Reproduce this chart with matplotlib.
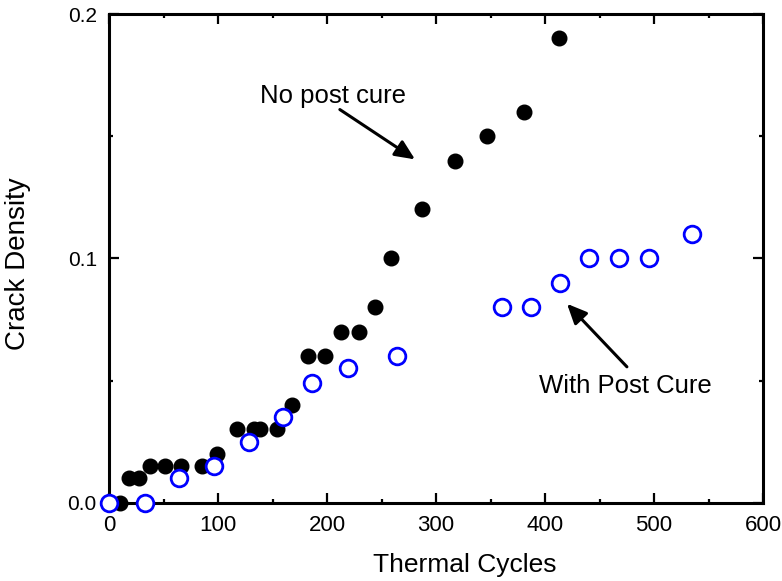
import matplotlib
matplotlib.use("Agg")
import matplotlib.pyplot as plt
from matplotlib.ticker import MultipleLocator, FormatStrFormatter

plt.rcParams['font.family'] = ['Liberation Sans', 'DejaVu Sans']

# No post cure (filled black)
cycles_no_cure = [10, 18, 27, 37, 51, 66, 85, 99, 117, 133, 138, 154, 168,
                  182, 198, 213, 229, 244, 259, 287, 317, 347, 381, 413]
density_no_cure = [0.0, 0.01, 0.01, 0.015, 0.015, 0.015, 0.015, 0.02, 0.03,
                   0.03, 0.03, 0.03, 0.04, 0.06, 0.06, 0.07, 0.07, 0.08,
                   0.10, 0.12, 0.14, 0.15, 0.16, 0.19]

# With post cure (open blue)
cycles_post_cure = [0, 33, 64, 96, 128, 159, 186, 219, 264, 360, 387, 414,
                    440, 468, 495, 535]
density_post_cure = [0.0, 0.0, 0.01, 0.015, 0.025, 0.035, 0.049, 0.055, 0.06,
                     0.08, 0.08, 0.09, 0.10, 0.10, 0.10, 0.11]

x_ticks = [0, 100, 200, 300, 400, 500, 600]
y_ticks = [0.0, 0.1, 0.2]

fig = plt.figure(figsize=(7.82, 5.81), dpi=100)
ax = fig.add_axes([0.1398, 0.1348, 0.8359, 0.8411])

ax.plot(cycles_no_cure, density_no_cure, linestyle='none', marker='o',
        markersize=10.5, markerfacecolor='black', markeredgecolor='black',
        clip_on=False, zorder=3)
ax.plot(cycles_post_cure, density_post_cure, linestyle='none', marker='o',
        markersize=12, markerfacecolor='white', markeredgecolor='#0000ff',
        markeredgewidth=2.0, clip_on=False, zorder=4)

ax.set_xlim(0, 600)
ax.set_ylim(0, 0.2)
ax.set_xticks(x_ticks)
ax.set_yticks(y_ticks)
ax.xaxis.set_minor_locator(MultipleLocator(50))
ax.yaxis.set_minor_locator(MultipleLocator(0.05))
ax.yaxis.set_major_formatter(FormatStrFormatter('%.1f'))

for s in ax.spines.values():
    s.set_linewidth(2.2)

ax.tick_params(which='both', direction='in', top=True, right=True, width=1.6)
ax.tick_params(which='major', length=7)
ax.tick_params(which='minor', length=3)
ax.tick_params(axis='x', which='major', labelsize=16, pad=9)
ax.tick_params(axis='y', which='major', labelsize=15, pad=9)

ax.set_xlabel('Thermal Cycles', fontsize=19)
ax.set_ylabel('Crack Density', fontsize=20)
ax.xaxis.set_label_coords(0.543, -0.103)
ax.yaxis.set_label_coords(-0.12, 0.49)

arrow_kw = dict(arrowstyle='-|>,head_length=0.8,head_width=0.36',
                mutation_scale=15, color='black', lw=2.2,
                shrinkA=0, shrinkB=0)

ax.text(204.9, 0.1663, 'No post cure', fontsize=18.5, ha='center', va='center')
ax.annotate('', xy=(280.6, 0.1405), xytext=(211.6, 0.1609),
            arrowprops=arrow_kw)

ax.text(473.3, 0.0478, 'With Post Cure', fontsize=18.5, ha='center', va='center')
ax.annotate('', xy=(420.1, 0.0814), xytext=(475.1, 0.0556),
            arrowprops=arrow_kw)

fig.savefig('out.png', dpi=100)
